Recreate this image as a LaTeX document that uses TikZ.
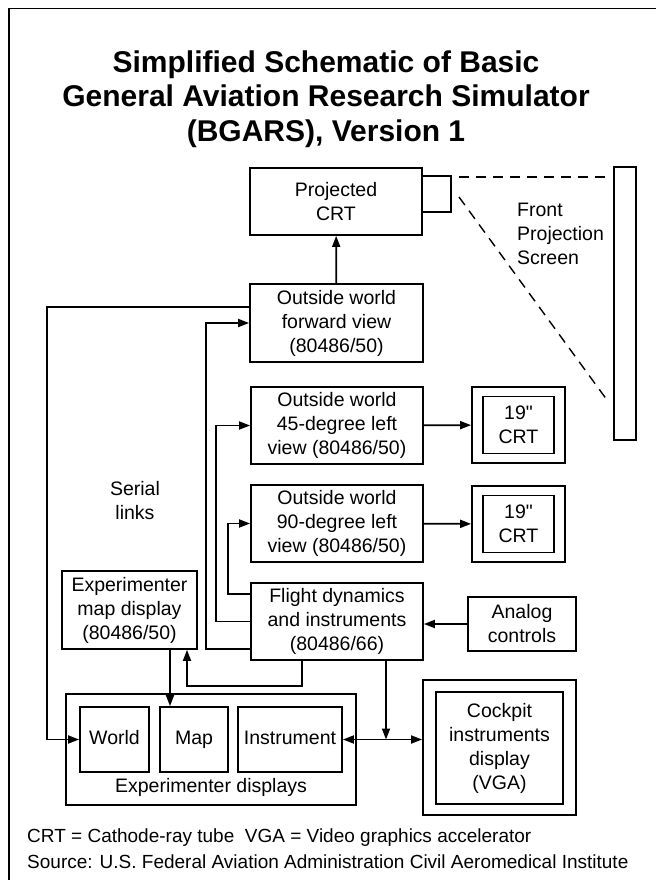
\documentclass[tikz,border=0pt]{standalone}
\usepackage{fontspec}
\setmainfont{Liberation Sans}
\newfontfamily\rawfont{Liberation Sans}
\usetikzlibrary{arrows.meta}
\tikzset{
	blk/.style={draw, line width=1.8pt, inner sep=0pt, align=center, font=\fontsize{19.5}{24}\selectfont},
	lbl/.style={inner sep=0pt, align=center, font=\fontsize{19.5}{24}\selectfont},
	one/.style={text height=14pt, text depth=4pt},
	link/.style={line width=1.8pt, -{Triangle[length=11pt,width=8pt]}},
	beam/.style={line width=1.4pt, dash pattern=on 10pt off 7pt},
}

\begin{document}
\begin{tikzpicture}[x=1pt,y=-1pt]
		\useasboundingbox (0,0) rectangle (656,880);
		\draw[line width=1.6pt] (9,880) -- (9,8.5) -- (656,8.5);
		\node[font=\fontsize{30}{34.5}\selectfont\bfseries, align=center] (title) at (326,99) {Simplified Schematic of Basic\\General Aviation Research Simulator\\(BGARS), Version 1};
		\node[blk, minimum width=172pt, minimum height=67pt] (proj) at (336,201.5) {Projected\\CRT};
		\node[blk, minimum width=29pt, minimum height=36pt] (lens) at (436.5,194) {};
		\node[blk, minimum width=22pt, minimum height=273pt] (screen) at (625,303.5) {};
		\node[lbl, align=left, anchor=west] (scrtxt) at (517,234) {Front\\Projection\\Screen};
		\node[blk, minimum width=173pt, minimum height=78pt] (fwd) at (336.5,323) {Outside world\\forward view\\(80486/50)};
		\node[blk, minimum width=172pt, minimum height=77pt] (left45) at (337,425.5) {Outside world\\45-degree left\\view (80486/50)};
		\node[blk, minimum width=172pt, minimum height=77pt] (left90) at (337,523.5) {Outside world\\90-degree left\\view (80486/50)};
		\node[blk, minimum width=93pt, minimum height=76pt] (crtA) at (518.5,425) {};
		\node[blk, minimum width=71pt, minimum height=57pt] (crtAin) at (518.5,425) {19{\rawfont"}\\CRT};
		\node[blk, minimum width=93pt, minimum height=76pt] (crtB) at (518.5,524) {};
		\node[blk, minimum width=71pt, minimum height=57pt] (crtBin) at (518.5,524) {19{\rawfont"}\\CRT};
		\node[lbl] (serial) at (135,501) {Serial\\links};
		\node[blk, minimum width=172pt, minimum height=77pt] (flight) at (337,621.5) {Flight dynamics\\and instruments\\(80486/66)};
		\node[blk, minimum width=108pt, minimum height=54pt] (analog) at (522,624) {Analog\\controls};
		\node[blk, minimum width=135pt, minimum height=78pt] (mapdisp) at (129.5,610) {Experimenter\\map display\\(80486/50)};
		\node[blk, minimum width=290pt, minimum height=111pt] (expd) at (211,749.5) {};
		\node[blk, one, minimum width=69pt, minimum height=65pt] (world) at (114.5,739.5) {World};
		\node[blk, one, minimum width=68pt, minimum height=65pt] (mapbox) at (194,739.5) {Map};
		\node[blk, one, minimum width=104pt, minimum height=65pt] (instr) at (290,739.5) {Instrument};
		\node[lbl] (exptxt) at (211,787) {Experimenter displays};
		\node[blk, minimum width=153pt, minimum height=135pt] (ckpt) at (499.5,747.5) {};
		\node[blk, minimum width=127pt, minimum height=112pt] (ckptin) at (499.5,748) {Cockpit\\instruments\\display\\(VGA)};
		\node[anchor=west, inner sep=0pt, align=left, font=\fontsize{19}{26}\selectfont] (note) at (27,849) {CRT = Cathode-ray tube\ \ VGA = Video graphics accelerator\\Source: U.S. Federal Aviation Administration Civil Aeromedical Institute};
		\coordinate (beamA) at (459,177);
		\coordinate (beamB) at (607,177);
		\coordinate (beamC) at (459,197);
		\coordinate (beamD) at (607,400);
		\draw[beam] (beamA) -- (beamB);
		\draw[beam] (beamC) -- (beamD);
		\draw[link] (fwd) -- (proj);
		\draw[link] ([yshift=16pt]fwd.west) -- ++(-202,0) |- (world.west);
		\draw[link] ([yshift=-27.5pt]flight.west) -- ++(-44,0) |- (fwd.west);
		\draw[link] (flight.west) -- ++(-34,0) |- (left45.west);
		\draw[link] ([yshift=27.5pt]flight.west) -- ++(-22,0) |- (left90.west);
		\draw[link] (left45) -- (crtA);
		\draw[link] (left90) -- (crtB);
		\draw[link] (analog) -- (flight.east |- analog);
		\draw[link] ([xshift=-35pt]flight.south) -- ++(0,25) -| ([xshift=57.5pt]mapdisp.south);
		\draw[link] ([xshift=40.5pt]mapdisp.south) -- ([xshift=40.5pt]mapdisp.south |- mapbox.north);
		\draw[link, {Triangle[length=11pt,width=8pt]}-{Triangle[length=11pt,width=8pt]}] (instr.east) -- (instr.east -| ckpt.west);
		\draw[link] ([xshift=49pt]flight.south) -- ([xshift=49pt]flight.south |- instr.east);
\end{tikzpicture}
\end{document}
